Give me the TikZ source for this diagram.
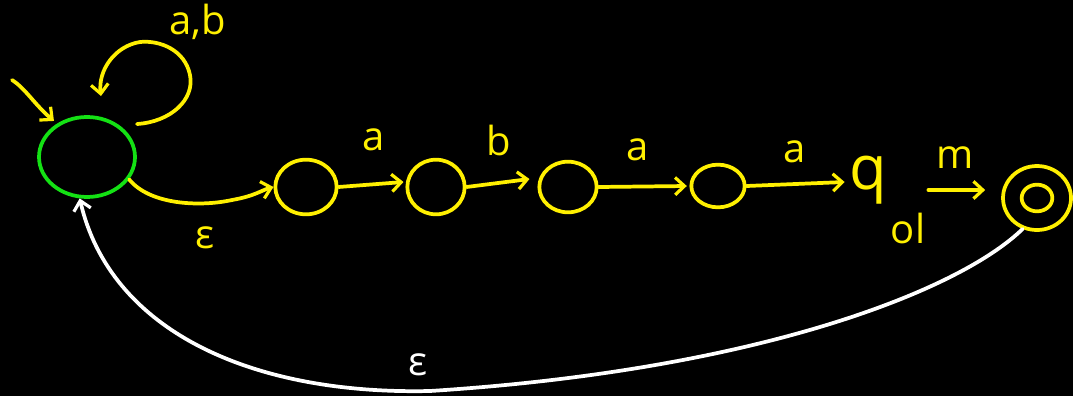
\documentclass[tikz,border=0pt]{standalone}
\usepackage{fontspec}
\setmainfont{Open Sans}
\usetikzlibrary{arrows.meta,shapes.geometric}
\definecolor{hy}{RGB}{255,240,0}
\definecolor{hg}{RGB}{20,225,20}
\tikzset{
  st/.style={ellipse,draw=hy,line width=2.8pt,inner sep=0pt},
  tip/.style={-{Straight Barb[length=7pt,width=13pt,line width=2.4pt]}},
  ed/.style={draw=hy,line width=2.8pt,line cap=round,tip},
  lb/.style={text=hy,font=\fontsize{30}{34}\selectfont,inner sep=0pt},
}
\begin{document}
\begin{tikzpicture}[x=0.75pt,y=-0.75pt]
\fill[black] (0,0) rectangle (1073,396);
\useasboundingbox (0,0) rectangle (1073,396);
% states
\node[ellipse,draw=hg,line width=2.8pt,minimum width=72pt,minimum height=60pt] (q0) at (87,157) {};
\node[st,minimum width=46pt,minimum height=41pt] (s1) at (306,187) {};
\node[st,minimum width=43pt,minimum height=41pt] (s2) at (436,187) {};
\node[st,minimum width=43pt,minimum height=38pt] (s3) at (568,187) {};
\node[st,minimum width=40pt,minimum height=32pt] (s4) at (718,186) {};
\node[text=hy,font=\fontsize{46}{50}\selectfont,inner sep=1pt] (qa) at (868,180) {q};
\node[lb] (qsub) at (908,228) {ol};
\node[st,minimum width=51pt,minimum height=48pt] (fin) at (1037,198) {};
\node[st,minimum width=23pt,minimum height=20pt] at (fin) {};
% coordinates for free ends
\coordinate (init) at (12,80);
\coordinate (loopA) at (137,124);
\coordinate (loopB) at (101,96);
% initial arrow
\draw[ed] (init) .. controls (25,88) and (35,105) .. ([shift={(-1,-4)}]q0.135);
% self loop
\draw[ed] (loopA) .. controls (170,122) and (195,100) .. (190,75) .. controls (185,50) and (160,40) .. (140,42) .. controls (115,46) and (98,70) .. (loopB);
\node[lb] (l0) at (198,22) {a,b};
% epsilon edge
\draw[ed] (q0.-28) .. controls (150,205) and (200,207) .. (232,200) .. controls (255,196) and (262,190) .. (s1.west);
\node[lb] (l1) at (205,238) {ε};
% chain
\draw[ed] (s1.east) -- ([shift={(-2,-5)}]s2.west);
\node[lb] (l2) at (374,140) {a};
\draw[ed] (s2.east) -- ([shift={(-8,-8)}]s3.west);
\node[lb] (l3) at (499,140) {b};
\draw[ed] (s3.east) -- ([xshift=-2]s4.west);
\node[lb] (l4) at (638,150) {a};
\draw[ed] (s4.east) -- ([shift={(-3,2)}]qa.west);
\node[lb] (l5) at (795,152) {a};
\draw[ed] ([shift={(40,10)}]qa.east) -- ([shift={(-16,-8)}]fin.west);
\node[lb] (l6) at (955,158) {m};
% return edge
\draw[white,line width=2.8pt,line cap=round,tip]
  (fin.-115) .. controls (960,290) and (760,370) .. (430,391)
  .. controls (250,395) and (110,330) .. (q0.-100);
\node[text=white,font=\fontsize{30}{34}\selectfont,inner sep=0pt] (l7) at (418,365) {ε};
\end{tikzpicture}
\end{document}
